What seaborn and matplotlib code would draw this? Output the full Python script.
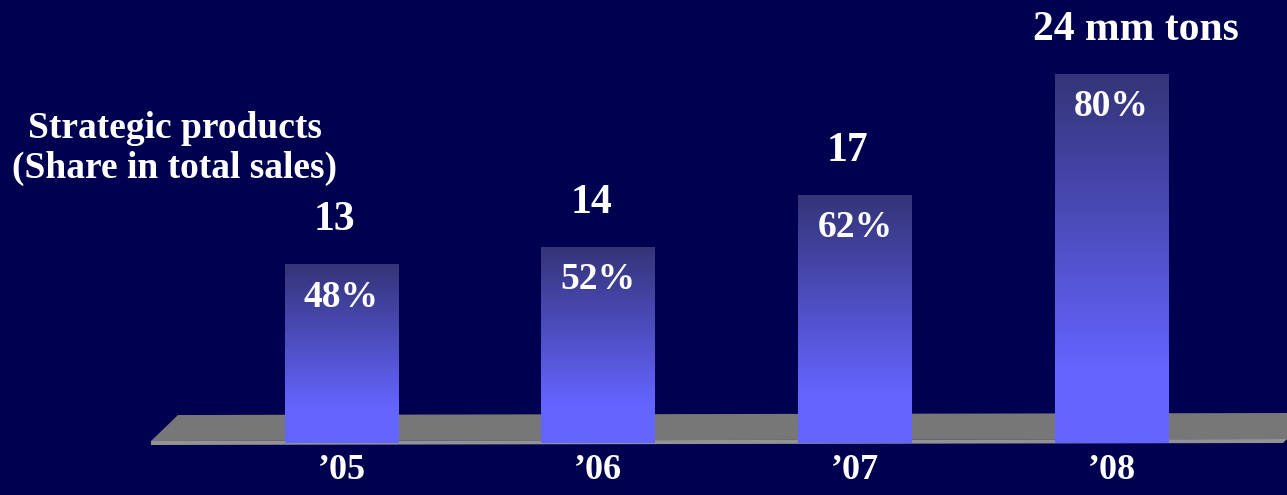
import numpy as np
import pandas as pd
import matplotlib
matplotlib.use("Agg")
import matplotlib.pyplot as plt
import seaborn as sns
from matplotlib.patches import Polygon
from matplotlib.colors import LinearSegmentedColormap

# ---- data ----
years = ["\u201905", "\u201906", "\u201907", "\u201908"]
volume = [13, 14, 17, 24]          # mm tons
share = [48, 52, 62, 80]           # strategic products share, %
unit = "mm tons"
side_label = "Strategic products\n(Share in total sales)"

# ---- layout / style ----
W, H = 1287, 495
BG = "#000050"
BAR_TOP = "#343478"
BAR_BOT = "#6464ff"
base_px = 443                      # pixel row of bar bottoms
s = 17.32                          # pixels per mm ton
c0 = 2.68                          # value at the floor line
cat_px = 256.7                     # pixels per category
x0_px = 341.5                      # pixel of first category

sns.set_theme(style="white")
plt.rcParams["font.family"] = ["Liberation Serif", "DejaVu Serif"]

fig = plt.figure(figsize=(W / 100, H / 100), dpi=100, facecolor=BG)
ax = fig.add_axes([0, (H - base_px) / H, 1, base_px / H])
ax.set_facecolor("none")

def fpx(x, y):
    return (x / W, 1 - y / H)

# floor slab
floor_top = Polygon([fpx(178, 415), fpx(1287, 413), fpx(1287, 439), fpx(151, 441)],
                    closed=True, transform=fig.transFigure, facecolor="#777777",
                    edgecolor="none", zorder=-2)
floor_front = Polygon([fpx(151, 441), fpx(1287, 439), fpx(1283, 443), fpx(151, 445)],
                      closed=True, transform=fig.transFigure, facecolor="#939393",
                      edgecolor="none", zorder=-1)
fig.add_artist(floor_top)
fig.add_artist(floor_front)

df = pd.DataFrame({"year": years, "volume": volume})
sns.barplot(data=df, x="year", y="volume", ax=ax, width=0.444,
            color=BAR_BOT, saturation=1, zorder=2, errorbar=None,
            edgecolor="none", linewidth=0)

cmap = LinearSegmentedColormap.from_list("bar", [BAR_TOP, BAR_BOT])
N = 256
t = np.linspace(0, 1, N)
grad = np.clip(t / 0.8, 0, 1).reshape(N, 1)

for p in ax.patches:
    bx = p.get_x()
    bw = p.get_width()
    top = p.get_height()
    im = ax.imshow(grad, cmap=cmap, vmin=0, vmax=1, aspect="auto",
                   extent=[bx, bx + bw, c0, top], interpolation="bilinear",
                   zorder=3)
    im.set_clip_path(p)

txt = dict(color="white", fontweight="bold", ha="center", va="center",
           annotation_clip=False, zorder=6)

for i, (v, sh) in enumerate(zip(volume, share)):
    # share inside the bar
    ax.annotate(f"{sh}%", xy=(i, v), xytext=(0, -33 * 0.72),
                textcoords="offset points", fontsize=27, **txt)
    # volume above the bar
    last = i == len(volume) - 1
    label = f"{v} {unit}" if last else f"{v}"
    dx = 24 if last else -7
    ax.annotate(label, xy=(i, v + 2.55), xytext=(dx * 0.72, 0),
                textcoords="offset points", fontsize=30, **txt)

ax.set_ylim(c0, c0 + base_px / s)
ax.set_xlim(-x0_px / cat_px, (W - x0_px) / cat_px)
ax.set_xlabel("")
ax.set_ylabel("")
ax.set_yticks([])
for sp in ax.spines.values():
    sp.set_visible(False)
ax.tick_params(axis="x", length=0, pad=8, labelsize=26, labelcolor="white")
for lbl in ax.get_xticklabels():
    lbl.set_fontweight("bold")

fig.text(175 / W, 1 - 148.5 / H, side_label, color="white", fontsize=27,
         fontweight="bold", ha="center", va="center", multialignment="center",
         linespacing=1.2)

fig.savefig("out.png", dpi=100, facecolor=BG)
